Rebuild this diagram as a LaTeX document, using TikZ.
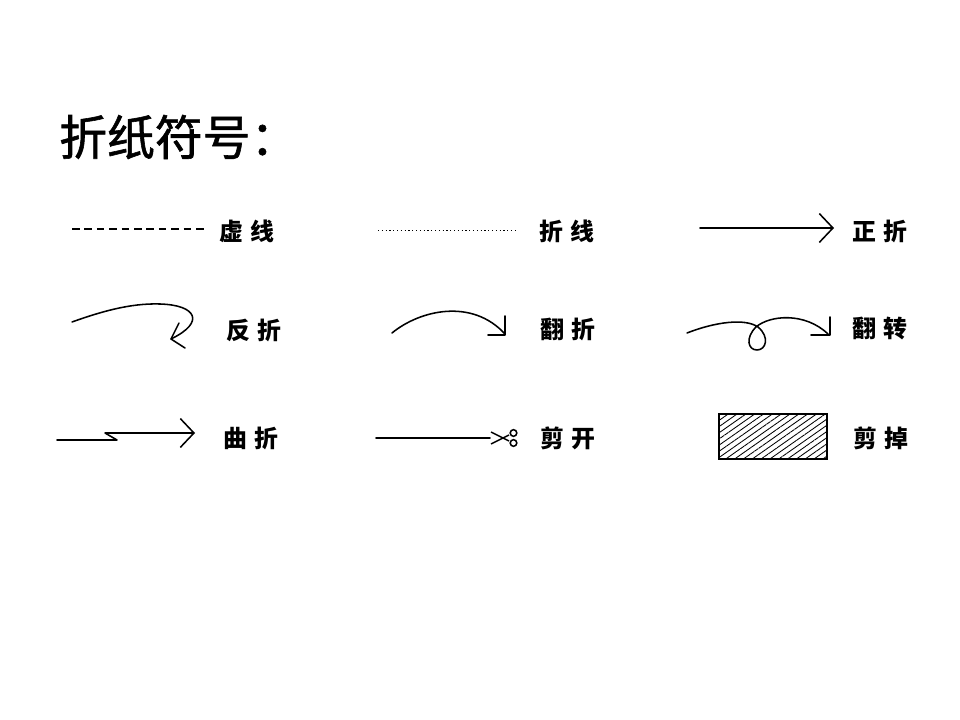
\documentclass[tikz,border=0pt]{standalone}
\usepackage{fontspec}
\newfontfamily\cjk{Noto Sans CJK SC}
\newfontfamily\cjktitle{Noto Sans CJK SC}[FakeBold=1.2]
\usetikzlibrary{arrows.meta,patterns.meta}

\tikzset{
	lbl/.style={font=\cjk\bfseries\fontsize{17}{20}\selectfont, inner sep=0pt},
	sym/.style={line width=1.1pt, line cap=round, line join=round},
	vhead/.style={-{Straight Barb[length=0.34cm,width=0.72cm,line width=1.1pt]}}
}
\newcommand{\twochar}[2]{#1\hspace{0.3em}#2}

\begin{document}
\begin{tikzpicture}[x=0.025cm,y=-0.025cm]
\useasboundingbox (0,0) rectangle (960,720);

% title
\node[font=\cjktitle\fontsize{34}{40}\selectfont, anchor=west, inner sep=0pt] (title) at (59,137) {折纸符号：};

% labels
\begin{scope}[every node/.style={lbl}]
	\node (xu)   at (247,231) {\twochar{虚}{线}};
	\node (zhe)  at (567,231) {\twochar{折}{线}};
	\node (zz)   at (880,231) {\twochar{正}{折}};
	\node (fz)   at (254,330) {\twochar{反}{折}};
	\node (fanz) at (568,329) {\twochar{翻}{折}};
	\node (fzh)  at (880,329) {\twochar{翻}{转}};
	\node (qz)   at (251,438) {\twochar{曲}{折}};
	\node (jk)   at (568,438) {\twochar{剪}{开}};
	\node (jd)   at (881,438) {\twochar{剪}{掉}};
\end{scope}

% row 1
\coordinate (d1) at (72,229);
\coordinate (d2) at (205,229);
\draw[line width=1.2pt, dash pattern=on 0.19cm off 0.12cm] (d1) -- (d2);

\coordinate (p1) at (378,230);
\coordinate (p2) at (518,230);
\draw[line width=0.6pt, dash pattern=on 0.03cm off 0.065cm] (p1) -- (p2);

\coordinate (a1) at (700,228);
\coordinate (a2) at (834,228);
\draw[sym, vhead] (a1) -- (a2);

% row 2
\coordinate (r1) at (72,322);
\coordinate (r2) at (171,339);
\draw[sym] (r1) .. controls (100,312) and (130,303) .. (160,304)
	.. controls (196,305) and (206,322) .. (r2);
\draw[sym] (179,323) -- (r2) -- (185,348);

\coordinate (f1) at (392,333);
\coordinate (f2) at (505,334);
\draw[sym] (f1) .. controls (420,310) and (472,298) .. (f2);
\draw[sym] (505,316) -- (505,335) -- (488,335);

\coordinate (t1) at (687,333);
\coordinate (t2) at (828,334);
\draw[sym] (t1) .. controls (715,322) and (745,318) .. (758,327)
	.. controls (770,337) and (766,350) .. (757,350)
	.. controls (748,350) and (745,338) .. (756,327)
	.. controls (770,315) and (805,312) .. (t2);
\draw[sym] (830,317) -- (830,335) -- (811,335);

% row 3
\coordinate (q1) at (57,440);
\coordinate (q2) at (195,433);
\draw[sym, vhead] (q1) -- (117,440) -- (105,433) -- (q2);

\coordinate (c1) at (376,438);
\coordinate (c2) at (490,438);
\draw[sym] (c1) -- (c2);
\begin{scope}[line width=1.1pt]
	\draw (491,432) -- (509,441);
	\draw (491,444) -- (509,435);
	\draw (513.5,433) circle (3.3);
	\draw (513.5,443) circle (3.3);
\end{scope}

\draw[line width=1pt, pattern={Lines[angle=35,distance=3.6pt,line width=0.6pt]}]
	(719,414) rectangle (827,459);

\end{tikzpicture}
\end{document}
